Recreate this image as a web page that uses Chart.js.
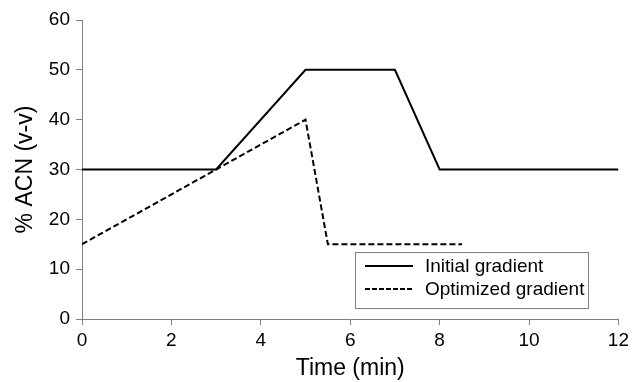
<!DOCTYPE html>
<html>
<head>
<meta charset="utf-8">
<script src="https://cdn.jsdelivr.net/npm/chart.js@4"></script>
<style>
  html, body { margin: 0; padding: 0; background: #fff; }
  #wrap { width: 633px; height: 382px; }
</style>
</head>
<body>
<div id="wrap"><canvas id="gradChart" width="633" height="382"></canvas></div>
<script>
// gradient programs, time in min and %ACN
const initialTime = [0, 3, 5, 7, 8, 12];
const initialAcn  = [30, 30, 50, 50, 30, 30];
const optimizedTime = [0, 5, 5.5, 8.5];
const optimizedAcn  = [15, 40, 15, 15];
const seriesNames = ['Initial gradient', 'Optimized gradient'];

const toPoints = (xs, ys) => xs.map((x, i) => ({ x: x, y: ys[i] }));

const FONT = 'Liberation Sans, Arial, sans-serif';
const AXIS_GREY = '#808080';

// legend box drawn inside the plot, like the original
const boxLegend = {
  id: 'boxLegend',
  afterDraw(chart) {
    const ctx = chart.ctx;
    const x0 = 355, y0 = 252, w = 233, h = 56;
    ctx.save();
    ctx.fillStyle = '#fff';
    ctx.fillRect(x0, y0, w, h);
    ctx.strokeStyle = AXIS_GREY;
    ctx.lineWidth = 1;
    ctx.strokeRect(x0 + 0.5, y0 + 0.5, w, h);
    ctx.font = '19px ' + FONT;
    ctx.fillStyle = '#000';
    ctx.textBaseline = 'middle';
    const rows = [y0 + 14, y0 + 37];
    chart.data.datasets.forEach((ds, i) => {
      ctx.beginPath();
      ctx.strokeStyle = '#000';
      ctx.lineWidth = 2;
      ctx.setLineDash(ds.borderDash ? [5, 2] : []);
      ctx.moveTo(x0 + 10, rows[i]);
      ctx.lineTo(x0 + 58, rows[i]);
      ctx.stroke();
      ctx.setLineDash([]);
      ctx.fillText(ds.label, x0 + 70, rows[i] + 1);
    });
    ctx.restore();
  }
};

new Chart(document.getElementById('gradChart'), {
  type: 'line',
  data: {
    datasets: [
      {
        label: seriesNames[0],
        data: toPoints(initialTime, initialAcn),
        borderColor: '#000',
        borderWidth: 2,
        pointRadius: 0,
        tension: 0,
        fill: false
      },
      {
        label: seriesNames[1],
        data: toPoints(optimizedTime, optimizedAcn),
        borderColor: '#000',
        borderWidth: 2,
        borderDash: [6, 3],
        pointRadius: 0,
        tension: 0,
        fill: false
      }
    ]
  },
  options: {
    responsive: false,
    animation: false,
    layout: { padding: { left: 0, right: 13, top: 20, bottom: 0 } },
    plugins: {
      legend: { display: false },
      tooltip: { enabled: false }
    },
    scales: {
      x: {
        type: 'linear',
        min: 0,
        max: 12,
        ticks: { stepSize: 2, color: '#000', font: { family: FONT, size: 19 }, padding: 4 },
        grid: { drawOnChartArea: false, color: AXIS_GREY, tickLength: 6 },
        border: { color: AXIS_GREY, width: 1 },
        title: {
          display: true,
          text: 'Time (min)',
          color: '#000',
          font: { family: FONT, size: 23 },
          padding: { top: 4, bottom: 0 }
        },
        afterFit(scale) { scale.height = 63; }
      },
      y: {
        min: 0,
        max: 60,
        ticks: { stepSize: 10, color: '#000', font: { family: FONT, size: 19 }, padding: 6 },
        grid: { drawOnChartArea: false, color: AXIS_GREY, tickLength: 6 },
        border: { color: AXIS_GREY, width: 1 },
        title: {
          display: true,
          text: '% ACN (v-v)',
          color: '#000',
          font: { family: FONT, size: 23 },
          padding: { top: 12, bottom: 4 }
        },
        afterFit(scale) { scale.width = 82; }
      }
    }
  },
  plugins: [boxLegend]
});
</script>
</body>
</html>
